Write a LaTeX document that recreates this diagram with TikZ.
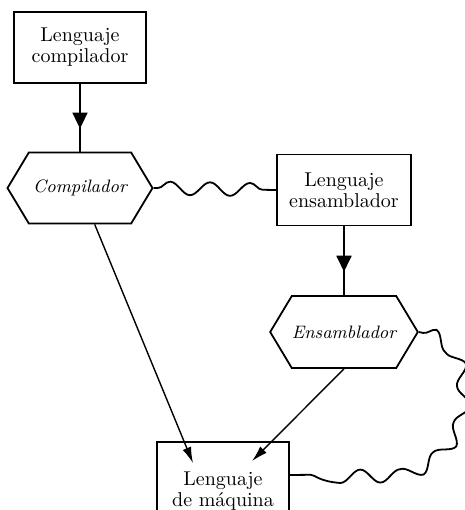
\documentclass[tikz,border=0pt]{standalone}
\usepackage{tikz}
\usetikzlibrary{arrows.meta,shapes.symbols,decorations.pathmorphing,decorations.markings}

\begin{document}
\begin{tikzpicture}[x=0.5pt, y=-0.5pt, every node/.style={font=\fontsize{10}{10.5}\selectfont},
  langbox/.style={draw, line width=0.9pt, align=center, minimum width=66pt, minimum height=35.5pt},
  procbox/.style={draw, line width=0.9pt, shape=signal, signal to=west and east, signal pointer angle=118,
    inner xsep=0pt, minimum width=71pt, minimum height=35.5pt, font=\fontsize{9}{10}\selectfont\itshape},
  midarrow/.style={line width=0.9pt, postaction={decorate, decoration={markings,
    mark=at position 0.66 with {\arrow{Triangle[length=8pt,width=7.5pt]}}}}},
  outarrow/.style={line width=0.7pt, -{Latex[length=8pt,width=4.5pt]}},
  wavy/.style={line width=0.9pt, decorate, decoration={snake, segment length=20pt, amplitude=3.3pt,
    pre length=2pt, post length=2pt}}]
  \useasboundingbox (0,0) rectangle (465,510);
  % source languages
  \node[langbox] (clang) at (80,47.5) {Lenguaje\\compilador};
  \node[langbox, minimum width=67pt] (alang) at (344,190) {Lenguaje\\ensamblador};
  % translators
  \node[procbox, minimum width=72.5pt] (comp) at (80,188) {Compilador};
  \node[procbox, minimum width=70pt, minimum height=36pt] (ens) at (344,332) {Ensamblador};
  % target
  \node[langbox, minimum height=47pt, text depth=-12pt] (mach) at (223,489) {Lenguaje\\de m\'aquina};
  \coordinate (tipA) at ([xshift=-15pt,yshift=-11pt]mach.north);
  \coordinate (tipB) at ([xshift=14.5pt,yshift=-10pt]mach.north);
  % connectors
  \draw[midarrow] (clang.south) -- (comp.north);
  \draw[midarrow] (alang.south) -- (ens.north);
  \draw[wavy] (comp.east) -- (alang.west);
  \draw[outarrow] (comp.-68) -- (tipA);
  \draw[outarrow] (ens.south) -- (tipB);
  \draw[wavy] (ens.east) to[out=-10,in=90] (455,395) to[out=-90,in=10] (385,474) -- ([yshift=7pt]mach.east);
\end{tikzpicture}
\end{document}
